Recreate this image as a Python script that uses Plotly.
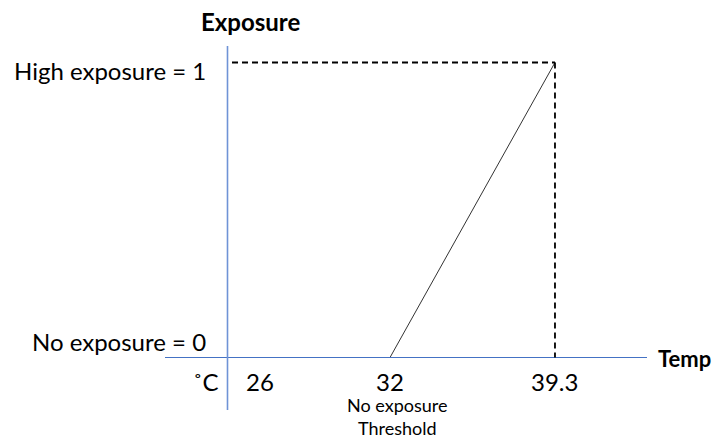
import plotly.graph_objects as go

# ---- data ----
tick_temps = [26, 32, 39.3]
tick_labels = ["26", "32", "39.3"]
exposure_x = [32, 39.3]      # threshold -> max
exposure_y = [0, 1]
y_levels = [0, 1]
y_labels = ["No exposure = 0", "High exposure = 1"]
threshold_label = "No exposure<br>Threshold"
unit_label = "˚C"
x_title = "Temp"
y_title = "Exposure"

# ---- layout constants (page pixel geometry) ----
W, H = 713, 439
PX_X = 22.6   # px per degree
PX_Y = 295.0  # px per exposure unit


def xpx(p):
    return 32 + (p - 390) / PX_X


def ypx(p):
    return 1 - (p - 62.5) / PX_Y


xr = [xpx(0), xpx(W)]
yr = [ypx(H), ypx(0)]

yaxis_x = xpx(227.5)
font = "Lato"
fs = 24

fig = go.Figure()

# exposure ramp
fig.add_trace(go.Scatter(x=exposure_x, y=exposure_y, mode="lines",
                         line=dict(color="#333333", width=1), hoverinfo="skip"))

shapes = []
# x axis
shapes.append(dict(type="line", x0=xpx(165), x1=xpx(647), y0=0, y1=0,
                   line=dict(color="#4472C4", width=1)))
# y axis
shapes.append(dict(type="line", x0=yaxis_x, x1=yaxis_x, y0=ypx(46), y1=ypx(410),
                   line=dict(color="#6F93D6", width=1.6)))
# dashed guides
shapes.append(dict(type="line", x0=xpx(232), x1=exposure_x[1], y0=exposure_y[1], y1=exposure_y[1],
                   line=dict(color="black", width=1.8, dash="6px,4px")))
shapes.append(dict(type="line", x0=exposure_x[1], x1=exposure_x[1], y0=exposure_y[1], y1=0,
                   line=dict(color="black", width=1.8, dash="6px,4px")))
fig.update_layout(shapes=shapes)

ann = []
for t, lab in zip(tick_temps, tick_labels):
    ann.append(dict(x=t, y=0, xref="x", yref="y", text=lab, showarrow=False,
                    yanchor="middle", yshift=-24, xshift=6 if t == 26 else 0, borderpad=0,
                    font=dict(family=font, size=fs, color="black")))
ann.append(dict(x=yaxis_x, y=0, xref="x", yref="y", text=unit_label, showarrow=False,
                xanchor="right", yanchor="middle", yshift=-24, xshift=-7,
                font=dict(family=font, size=fs, color="black")))
ann.append(dict(x=tick_temps[1], y=0, xref="x", yref="y", text=threshold_label,
                showarrow=False, yanchor="top", yshift=-35, xshift=7, borderpad=0,
                font=dict(family=font, size=18, color="black")))
for lv, lab in zip(y_levels, y_labels):
    ann.append(dict(x=yaxis_x, y=lv, xref="x", yref="y", text=lab, showarrow=False,
                    xanchor="right", yanchor="middle", xshift=-20, yshift=-8 if lv == 1 else 16,
                    font=dict(family=font, size=fs, color="black")))
ann.append(dict(x=xpx(250), y=ypx(21), xref="x", yref="y", text="<b>" + y_title + "</b>",
                showarrow=False, xanchor="center", yanchor="middle",
                font=dict(family=font, size=fs, color="black")))
ann.append(dict(x=xpx(656), y=0, xref="x", yref="y", text="<b>" + x_title + "</b>",
                showarrow=False, xanchor="left", yanchor="middle", yshift=-1,
                font=dict(family=font, size=22, color="black")))

fig.update_layout(
    annotations=ann,
    width=W, height=H,
    margin=dict(l=0, r=0, t=0, b=0),
    paper_bgcolor="white", plot_bgcolor="white",
    showlegend=False,
    xaxis=dict(range=xr, visible=False, fixedrange=True),
    yaxis=dict(range=yr, visible=False, fixedrange=True),
)

fig.write_html("out.html",
               config={"displayModeBar": False, "staticPlot": True},
               post_script="document.body.style.margin='0';document.body.style.overflow='hidden';")
